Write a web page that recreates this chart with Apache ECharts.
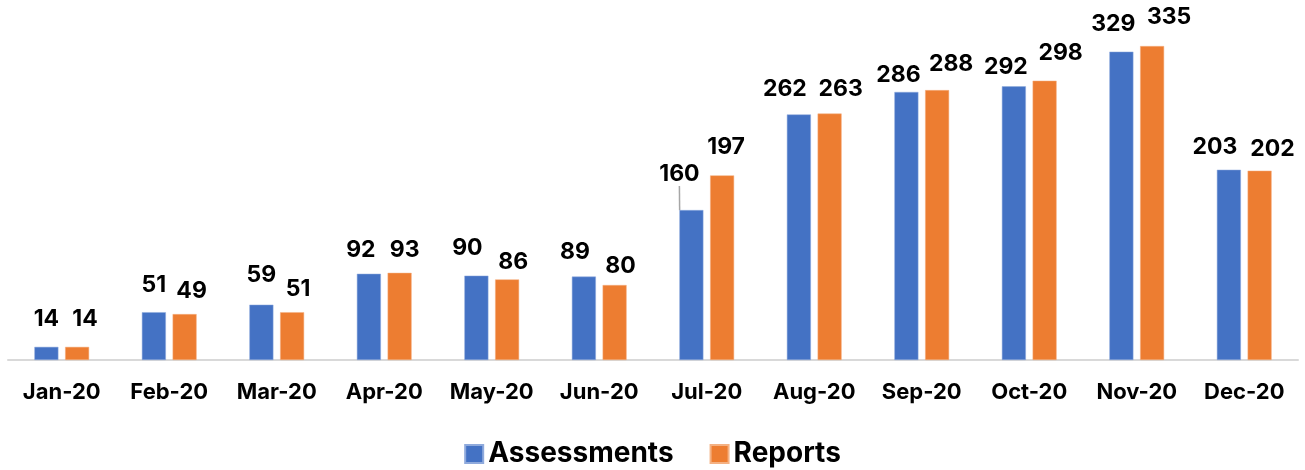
<!DOCTYPE html>
<html>
<head>
<meta charset="utf-8">
<script src="https://cdn.jsdelivr.net/npm/echarts@6/dist/echarts.min.js"></script>
<style>
  html, body { margin: 0; padding: 0; background: #fff; }
  #chart { width: 1305px; height: 470px; }
</style>
</head>
<body>
<div id="chart"></div>
<script>
const months = ['Jan-20', 'Feb-20', 'Mar-20', 'Apr-20', 'May-20', 'Jun-20', 'Jul-20', 'Aug-20', 'Sep-20', 'Oct-20', 'Nov-20', 'Dec-20']
const assessments = [14, 51, 59, 92, 90, 89, 160, 262, 286, 292, 329, 203]
const reports = [14, 49, 51, 93, 86, 80, 197, 263, 288, 298, 335, 202]

// label nudges (px), the way they were dragged around in the original sheet
const labelDx = [
  [0, 0, 0, -8, -9, -9, -12, -14, -8, -8, -8, -14],
  [8, 7, 6, 5, 6, 6, 4, 11, 14, 16, 17, 13],
]
const labelGap = [
  [19, 19, 21, 15, 19, 16, 27, 17, 8, 11, 19, 14],
  [19, 15, 15, 14, 9, 10, 20, 16, 18, 19, 20, 13],
]
const leaderIdx = 6 // Jul-20 assessments label has a leader line

const fontFamily = 'Inter, "Noto Sans", sans-serif'
const chart = echarts.init(document.getElementById('chart'))

const barLabel = {
  show: true,
  position: 'top',
  distance: 0,
  color: '#000',
  fontSize: 23,
  fontWeight: 'bold',
  fontFamily,
}

const nudge = params => ({
  dx: labelDx[params.seriesIndex][params.dataIndex],
  dy: -labelGap[params.seriesIndex][params.dataIndex] + 3,
})

chart.setOption({
  animation: false,
  grid: { left: 8, right: 7, top: 32, bottom: 110 },
  legend: {
    top: 440,
    padding: 0,
    left: 'center',
    itemWidth: 18,
    itemHeight: 18,
    itemGap: 36,
    icon: 'rect',
    textStyle: { fontSize: 28, fontWeight: 'bold', color: '#000', fontFamily },
  },
  xAxis: {
    type: 'category',
    data: months,
    axisLine: { lineStyle: { color: '#d9d9d9', width: 2 } },
    axisTick: { interval: 0, length: 8, lineStyle: { color: '#d9d9d9', width: 2 } },
    axisLabel: { interval: 0, fontSize: 22, fontWeight: 'bold', color: '#000', margin: 21, fontFamily },
  },
  yAxis: {
    type: 'value',
    min: 0,
    max: 350,
    show: false,
    splitLine: { show: false },
  },
  series: [
    {
      name: 'Assessments',
      type: 'bar',
      data: assessments.map((v, i) => (i === leaderIdx ? { value: v, labelLine: { show: true } } : v)),
      barWidth: 24,
      barGap: '28%',
      itemStyle: { color: '#4472c4', borderColor: '#8faadc', borderWidth: 0.5 },
      label: barLabel,
      labelLine: { show: false, lineStyle: { color: '#a6a6a6', width: 1.5 } },
      labelLayout: nudge,
    },
    {
      name: 'Reports',
      type: 'bar',
      data: reports,
      barWidth: 24,
      itemStyle: { color: '#ed7d31', borderColor: '#f4b183', borderWidth: 0.5 },
      label: barLabel,
      labelLayout: nudge,
    },
  ],
})
</script>
</body>
</html>
